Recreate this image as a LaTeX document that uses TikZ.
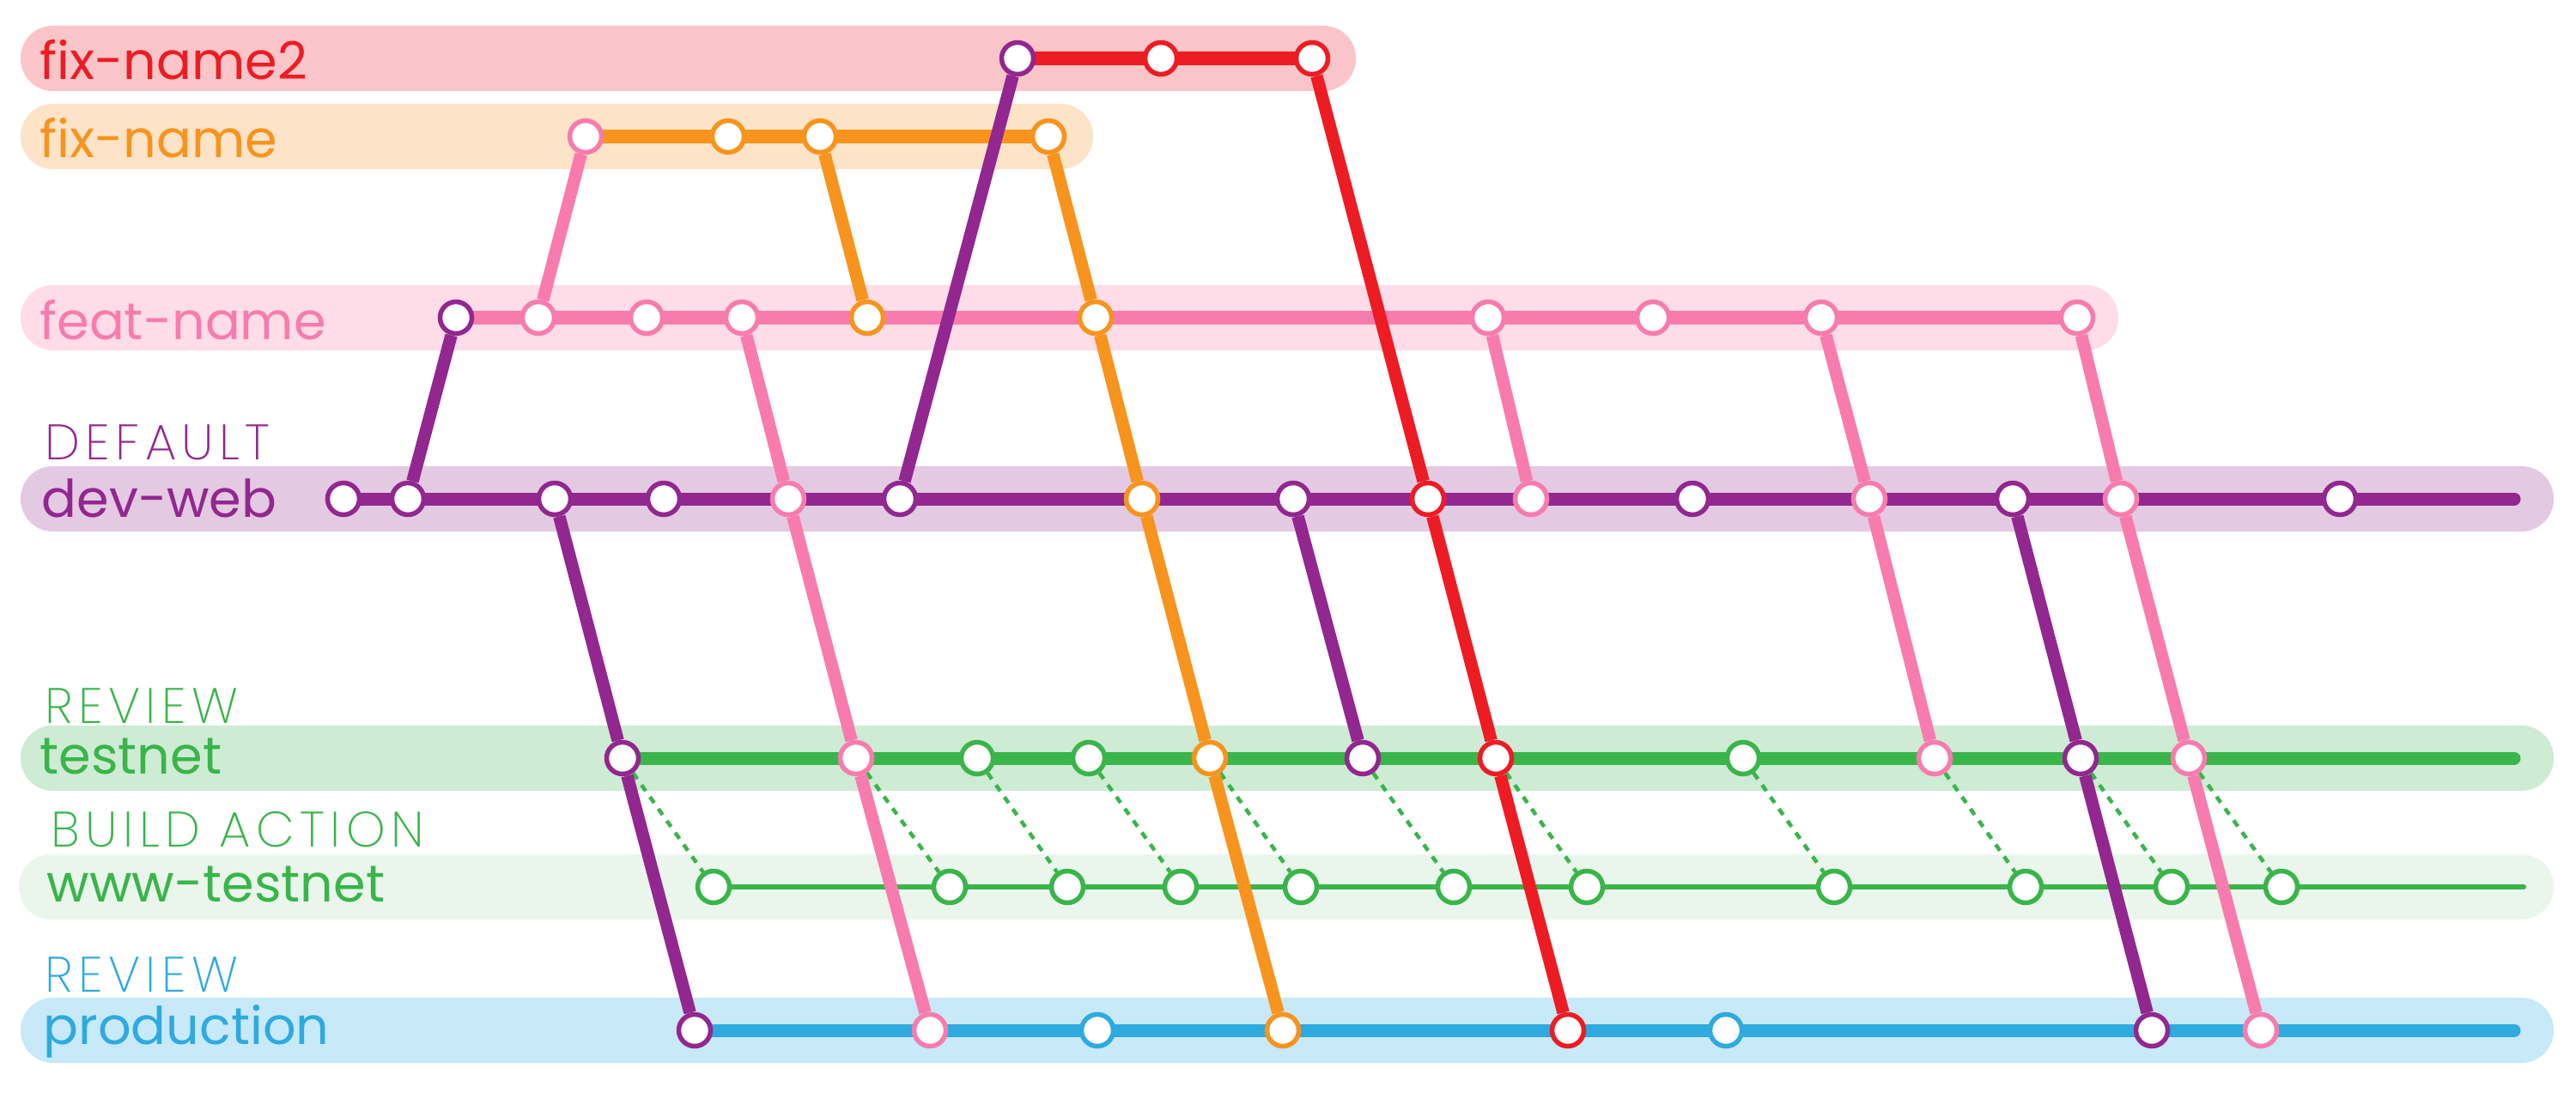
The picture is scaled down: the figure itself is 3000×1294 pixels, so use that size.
\documentclass[tikz,border=0pt]{standalone}
\usepackage{fontspec}
\setmainfont{Poppins}
\newfontfamily\thinfont{Poppins ExtraLight}[LetterSpace=11]
\definecolor{cred}{HTML}{ED1C24}
\definecolor{bred}{HTML}{F9C5C8}
\definecolor{corange}{HTML}{F7941D}
\definecolor{borange}{HTML}{FDE3C7}
\definecolor{cpink}{HTML}{F77CAD}
\definecolor{bpink}{HTML}{FEDCE8}
\definecolor{cpurple}{HTML}{92278F}
\definecolor{bpurple}{HTML}{E3C9E1}
\definecolor{cgreen}{HTML}{39B54A}
\definecolor{bgreen}{HTML}{CEEBD3}
\definecolor{bwww}{HTML}{EAF6EC}
\definecolor{cblue}{HTML}{2EAADF}
\definecolor{bblue}{HTML}{C8E9F8}
\pgfdeclarelayer{bands}
\pgfdeclarelayer{lines}
\pgfsetlayers{bands,lines,main}
\begin{document}
\begin{tikzpicture}[x=0.01cm,y=-0.01cm,
  commit/.style={circle,draw=#1,fill=white,line width=0.055cm,minimum size=0.37cm,inner sep=0pt},
  lane/.style={draw=#1,line width=0.15cm,line cap=round},
  link/.style={draw=#1,line width=0.145cm},
  build/.style={draw=cgreen,line width=0.045cm,dash pattern=on 0.085cm off 0.085cm},
  wwwline/.style={draw=cgreen,line width=0.06cm,line cap=round},
  band/.style={fill=#1,rounded corners=0.375cm},
  lanename/.style={anchor=base west,inner sep=0pt,text=#1,font={\fontsize{17.2}{20}\selectfont}},
  tag/.style={anchor=base west,inner sep=0pt,text=#1,font={\thinfont\fontsize{16.5}{20}\selectfont}}]
\useasboundingbox (0,0) rectangle (3000,1294);

% bands
\begin{pgfonlayer}{bands}
\fill[band=bred] (24,30) rectangle (1579,106);
\fill[band=borange] (24,121) rectangle (1273,197);
\fill[band=bpink] (24,332) rectangle (2467,408);
\fill[band=bpurple] (24,543) rectangle (2974,619);
\fill[band=bgreen] (24,845) rectangle (2974,921);
\fill[band=bwww] (22,995) rectangle (2974,1071);
\fill[band=bblue] (24,1162) rectangle (2974,1238);
\end{pgfonlayer}

% labels
\node[lanename=cred] (lq) at (46,93) {fix-name2};
\node[lanename=corange] (lf) at (46,183) {fix-name};
\node[lanename=cpink] (lp) at (46,395) {feat-name};
\node[tag=cpurple] (ldef) at (52,535) {DEFAULT};
\node[lanename=cpurple] (ld) at (48,602) {dev-web};
\node[tag=cgreen] (lrev1) at (52,842) {REVIEW};
\node[lanename=cgreen] (lt) at (46,901) {testnet};
\node[tag=cgreen] (lbuild) at (59,986) {BUILD ACTION};
\node[lanename=cgreen] (lw) at (54,1050) {www-testnet};
\node[tag=cblue] (lrev2) at (52,1155) {REVIEW};
\node[lanename=cblue] (lr) at (50,1216) {production};

% fix-name2
\node[commit=cpurple] (q1) at (1185,68) {};
\node[commit=cred] (q2) at (1352,68) {};
\node[commit=cred] (q3) at (1528,68) {};
% fix-name
\node[commit=cpink] (f1) at (682,159) {};
\node[commit=corange] (f2) at (848,159) {};
\node[commit=corange] (f3) at (955,159) {};
\node[commit=corange] (f4) at (1221,159) {};
% feat-name
\node[commit=cpurple] (p1) at (531,370) {};
\node[commit=cpink] (p2) at (627,370) {};
\node[commit=cpink] (p3) at (753,370) {};
\node[commit=cpink] (p4) at (864,370) {};
\node[commit=corange] (p5) at (1010,370) {};
\node[commit=corange] (p6) at (1276,370) {};
\node[commit=cpink] (p7) at (1733,370) {};
\node[commit=cpink] (p8) at (1925,370) {};
\node[commit=cpink] (p9) at (2121,370) {};
\node[commit=cpink] (p10) at (2419,370) {};
% dev-web
\node[commit=cpurple] (d1) at (400,581) {};
\node[commit=cpurple] (d2) at (475,581) {};
\node[commit=cpurple] (d3) at (646,581) {};
\node[commit=cpurple] (d4) at (773,581) {};
\node[commit=cpink] (d5) at (918,581) {};
\node[commit=cpurple] (d6) at (1048,581) {};
\node[commit=corange] (d7) at (1330,581) {};
\node[commit=cpurple] (d8) at (1506,581) {};
\node[commit=cred] (d9) at (1663,581) {};
\node[commit=cpink] (d10) at (1783,581) {};
\node[commit=cpurple] (d11) at (1971,581) {};
\node[commit=cpink] (d12) at (2177,581) {};
\node[commit=cpurple] (d13) at (2344,581) {};
\node[commit=cpink] (d14) at (2470,581) {};
\node[commit=cpurple] (d15) at (2725,581) {};
\coordinate (dend) at (2928,581);
% testnet
\node[commit=cpurple] (t1) at (725,883) {};
\node[commit=cpink] (t2) at (997,883) {};
\node[commit=cgreen] (t3) at (1138,883) {};
\node[commit=cgreen] (t4) at (1268,883) {};
\node[commit=corange] (t5) at (1409,883) {};
\node[commit=cpurple] (t6) at (1587,883) {};
\node[commit=cred] (t7) at (1742,883) {};
\node[commit=cgreen] (t8) at (2030,883) {};
\node[commit=cpink] (t9) at (2253,883) {};
\node[commit=cpurple] (t10) at (2423,883) {};
\node[commit=cpink] (t11) at (2549,883) {};
\coordinate (tend) at (2928,883);
% www-testnet
\node[commit=cgreen] (w1) at (831,1033) {};
\node[commit=cgreen] (w2) at (1106,1033) {};
\node[commit=cgreen] (w3) at (1243,1033) {};
\node[commit=cgreen] (w4) at (1375,1033) {};
\node[commit=cgreen] (w5) at (1515,1033) {};
\node[commit=cgreen] (w6) at (1693,1033) {};
\node[commit=cgreen] (w7) at (1848,1033) {};
\node[commit=cgreen] (w8) at (2136,1033) {};
\node[commit=cgreen] (w9) at (2359,1033) {};
\node[commit=cgreen] (w10) at (2529,1033) {};
\node[commit=cgreen] (w11) at (2657,1033) {};
\coordinate (wend) at (2939,1033);
% production
\node[commit=cpurple] (r1) at (809,1200) {};
\node[commit=cpink] (r2) at (1083,1200) {};
\node[commit=cblue] (r3) at (1278,1200) {};
\node[commit=corange] (r4) at (1494,1200) {};
\node[commit=cred] (r5) at (1826,1200) {};
\node[commit=cblue] (r6) at (2010,1200) {};
\node[commit=cpurple] (r7) at (2506,1200) {};
\node[commit=cpink] (r8) at (2633,1200) {};
\coordinate (rend) at (2928,1200);

\begin{pgfonlayer}{lines}
% lane lines
\draw[lane=cred] (q1.center) -- (q3.center);
\draw[lane=corange] (f1.center) -- (f4.center);
\draw[lane=cpink] (p1.center) -- (p10.center);
\draw[lane=cpurple] (d1.center) -- (dend);
\draw[lane=cgreen] (t1.center) -- (tend);
\draw[wwwline] (w1.center) -- (wend);
\draw[lane=cblue] (r1.center) -- (rend);
% build actions
\draw[build] (t1) -- (w1);
\draw[build] (t2) -- (w2);
\draw[build] (t3) -- (w3);
\draw[build] (t4) -- (w4);
\draw[build] (t5) -- (w5);
\draw[build] (t6) -- (w6);
\draw[build] (t7) -- (w7);
\draw[build] (t8) -- (w8);
\draw[build] (t9) -- (w9);
\draw[build] (t10) -- (w10);
\draw[build] (t11) -- (w11);
% purple links
\draw[link=cpurple] (d2) -- (p1);
\draw[link=cpurple] (d3) -- (t1);
\draw[link=cpurple] (t1) -- (r1);
\draw[link=cpurple] (d6) -- (q1);
\draw[link=cpurple] (d8) -- (t6);
\draw[link=cpurple] (d13) -- (t10);
\draw[link=cpurple] (t10) -- (r7);
% pink links
\draw[link=cpink] (p2) -- (f1);
\draw[link=cpink] (p4) -- (d5);
\draw[link=cpink] (d5) -- (t2);
\draw[link=cpink] (t2) -- (r2);
\draw[link=cpink] (p7) -- (d10);
\draw[link=cpink] (p9) -- (d12);
\draw[link=cpink] (d12) -- (t9);
\draw[link=cpink] (p10) -- (d14);
\draw[link=cpink] (d14) -- (t11);
\draw[link=cpink] (t11) -- (r8);
% orange links
\draw[link=corange] (f3) -- (p5);
\draw[link=corange] (f4) -- (p6);
\draw[link=corange] (p6) -- (d7);
\draw[link=corange] (d7) -- (t5);
\draw[link=corange] (t5) -- (r4);
% red links
\draw[link=cred] (q3) -- (d9);
\draw[link=cred] (d9) -- (t7);
\draw[link=cred] (t7) -- (r5);
\end{pgfonlayer}
\end{tikzpicture}
\end{document}
